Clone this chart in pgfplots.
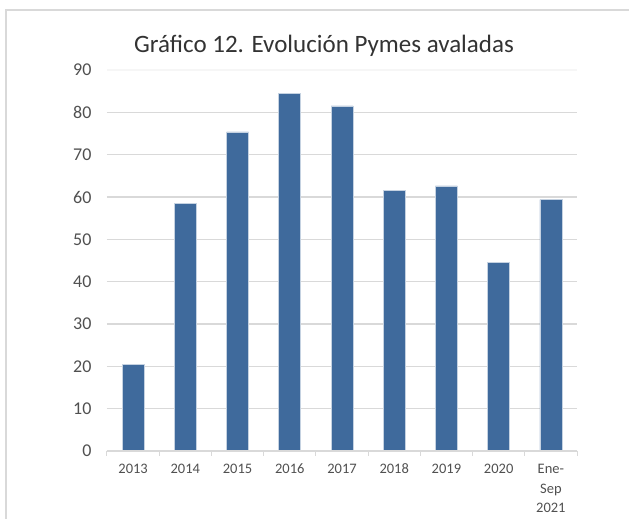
\documentclass[border=0pt]{standalone}
\usepackage{pgfplots}
\pgfplotsset{compat=1.18}
\usepackage{fontspec}
\setmainfont{Carlito}
\definecolor{barblue}{HTML}{3F6A9C}
\definecolor{gridgray}{HTML}{D9D9D9}
\definecolor{txtgray}{HTML}{505050}
\begin{document}
\begin{tikzpicture}
\useasboundingbox (-107pt,-68pt) rectangle (522pt,451pt);
\draw[gridgray, line width=1.2pt] (-101pt,-80pt) -- (-101pt,441pt) -- (530pt,441pt);
\begin{axis}[
  at={(0pt,0pt)}, anchor=south west,
  scale only axis,
  width=470pt, height=381pt,
  ymin=0, ymax=90,
  ytick={0,10,...,80},
  xmin=-0.5, xmax=8.5,
  xtick={0,...,8},
  xticklabels={\strut 2013,\strut 2014,\strut 2015,\strut 2016,\strut 2017,\strut 2018,\strut 2019,\strut 2020,{\strut Ene-\\Sep\\2021}},
  xticklabel style={align=center, font=\fontsize{14.5}{19.5}\selectfont, text=txtgray, anchor=north, inner sep=0pt, yshift=-9pt},
  yticklabel style={font=\fontsize{18}{20}\selectfont, text=txtgray, anchor=east, xshift=-12pt},
  extra y ticks={90},
  extra y tick style={grid style={gridgray!25, line width=1.3pt}},
  /pgf/number format/assume math mode=true,
  axis line style={draw=none},
  axis x line*=bottom,
  axis y line*=left,
  ymajorgrids,
  grid style={gridgray, line width=1.3pt},
  major tick length=0pt,
  ybar, bar width=22pt,
  bar shift=0pt,
  enlargelimits=false,
  clip=false,
  title={Gráfico 12. Evolución Pymes avaladas},
  title style={font=\fontsize{25}{28}\selectfont, text=black!80, xshift=-18pt, yshift=4pt},
]
\addplot[fill=barblue, draw=white!70!barblue, line width=0.6pt] coordinates {
 (0,20.4) (1,58.4) (2,75.4) (3,84.5) (4,81.5) (5,61.6) (6,62.6) (7,44.5) (8,59.4)};
\draw[gridgray, line width=1.3pt] (axis cs:-0.5,0) -- (axis cs:8.5,0);
\pgfplotsinvokeforeach{-0.5,0.5,1.5,2.5,3.5,4.5,5.5,6.5,7.5,8.5}{
  \draw[gridgray, line width=1pt] (axis cs:#1,0) -- ++(0pt,-5pt);
}
\end{axis}
\end{tikzpicture}
\end{document}
